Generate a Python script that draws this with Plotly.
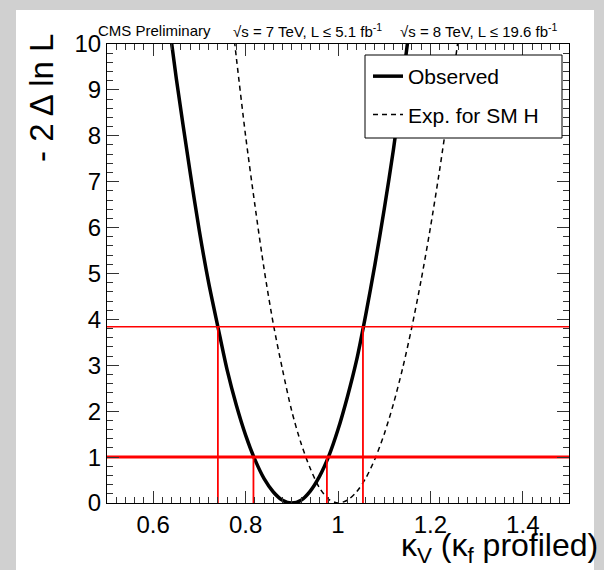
import plotly.graph_objects as go

# ---- data ----
obs_x = [0.62, 0.63, 0.65, 0.68, 0.70, 0.72, 0.74, 0.76, 0.78, 0.80, 0.82, 0.84, 0.86, 0.88, 0.90,
         0.92, 0.94, 0.96, 0.98, 1.00, 1.02, 1.04, 1.06, 1.08, 1.10, 1.12, 1.14, 1.16, 1.17]
obs_y = [11.6, 10.8, 9.25, 7.2, 5.92, 4.8, 3.84, 2.9, 2.13, 1.48, 0.95, 0.53, 0.24, 0.06, 0.0,
         0.06, 0.26, 0.58, 1.02, 1.6, 2.3, 3.1, 4.1, 5.2, 6.4, 7.7, 9.2, 10.8, 11.7]

exp_x = [0.75, 0.76, 0.78, 0.80, 0.82, 0.84, 0.86, 0.88, 0.90, 0.92, 0.94, 0.96, 0.98, 1.00,
         1.02, 1.04, 1.06, 1.08, 1.10, 1.12, 1.14, 1.16, 1.18, 1.20, 1.22, 1.24, 1.26, 1.28]
exp_y = [12.4, 11.5, 9.7, 8.0, 6.5, 5.1, 3.9, 2.9, 2.0, 1.3, 0.75, 0.33, 0.08, 0.0,
         0.06, 0.24, 0.54, 0.96, 1.5, 2.16, 2.94, 3.84, 4.86, 6.0, 7.26, 8.64, 10.1, 11.8]

cl_levels = [1.0, 3.84]
cl_widths = [3, 1.6]
obs_cross_68 = [0.817, 0.976]
obs_cross_95 = [0.74, 1.054]

x_range = [0.5, 1.5]
y_range = [0, 10]

FONT = "Liberation Sans, Arial, Helvetica, sans-serif"
RED = "#ff0000"

fig = go.Figure()

fig.add_trace(go.Scatter(x=obs_x, y=obs_y, mode="lines", name="Observed",
                         line=dict(color="black", width=3.5, shape="spline", smoothing=0.8),
                         legendgroup="obs"))
fig.add_trace(go.Scatter(x=exp_x, y=exp_y, mode="lines", name="Exp. for SM H",
                         line=dict(color="black", width=1.5, dash="5px,4px", shape="spline", smoothing=0.8),
                         legendgroup="exp"))

# horizontal CL lines
for lvl, w in zip(cl_levels, cl_widths):
    fig.add_trace(go.Scatter(x=x_range, y=[lvl, lvl], mode="lines", showlegend=False,
                             line=dict(color=RED, width=w), hoverinfo="skip"))
# vertical crossing lines
for xs, lvl in ((obs_cross_68, cl_levels[0]), (obs_cross_95, cl_levels[1])):
    for xc in xs:
        fig.add_trace(go.Scatter(x=[xc, xc], y=[0, lvl], mode="lines", showlegend=False,
                                 line=dict(color=RED, width=1.8), hoverinfo="skip"))

L, R, T, B = 107, 35, 44, 67
W, H = 604, 570
pw, ph = W - L - R, H - T - B

def px(xp):
    return (xp - L) / pw

def py(yp):
    return (H - B - yp) / ph

axis_common = dict(showline=True, linecolor="black", linewidth=1, mirror="ticks",
                   ticks="inside", tickcolor="#333", tickwidth=1, ticklen=12,
                   showgrid=False, zeroline=False,
                   tickfont=dict(family=FONT, size=24, color="black"))

fig.update_xaxes(range=x_range, tick0=0, dtick=0.2,
                 minor=dict(dtick=0.02, ticks="inside", ticklen=6, tickcolor="#333"),
                 **axis_common)
fig.update_yaxes(range=y_range, tick0=0, dtick=1,
                 minor=dict(dtick=0.2, ticks="inside", ticklen=6, tickcolor="#333"),
                 **axis_common)

shapes = [
    # white page panel on the gray background
    dict(type="rect", xref="paper", yref="paper", x0=px(16), x1=px(594), y0=py(570), y1=py(10),
         fillcolor="white", line=dict(width=0), layer="below"),
    # legend box
    dict(type="rect", xref="paper", yref="paper", x0=px(365), x1=px(562), y0=py(138), y1=py(55),
         fillcolor="white", line=dict(color="black", width=1), layer="above"),
]

annotations = [
    dict(text="CMS Preliminary", x=px(96), y=py(30), xref="paper", yref="paper",
         xanchor="left", yanchor="middle", showarrow=False,
         font=dict(family=FONT, size=15, color="black")),
    dict(text="√s = 7 TeV, L ≤ 5.1 fb<sup>-1</sup>", x=px(231), y=py(30), xref="paper", yref="paper",
         xanchor="left", yanchor="middle", showarrow=False,
         font=dict(family=FONT, size=15, color="black")),
    dict(text="√s = 8 TeV, L ≤ 19.6 fb<sup>-1</sup>", x=px(398), y=py(30), xref="paper", yref="paper",
         xanchor="left", yanchor="middle", showarrow=False,
         font=dict(family=FONT, size=15, color="black")),
    dict(text="κ<sub>V</sub> (κ<sub>f</sub> profiled)", x=px(600), y=py(570), xref="paper", yref="paper",
         xanchor="right", yanchor="bottom", showarrow=False,
         font=dict(family=FONT, size=32, color="black")),
    dict(text="- 2 Δ ln L", textangle=-90, x=px(41), y=py(32), xref="paper", yref="paper",
         xanchor="center", yanchor="top", showarrow=False,
         font=dict(family=FONT, size=33, color="black")),
]

fig.update_layout(
    width=W, height=H, autosize=False,
    margin=dict(l=L, r=R, t=T, b=B, pad=0),
    paper_bgcolor="#d0d0d0", plot_bgcolor="white",
    shapes=shapes, annotations=annotations,
    showlegend=True,
    legend=dict(x=px(368), y=py(56), xanchor="left", yanchor="top",
                bgcolor="rgba(0,0,0,0)", borderwidth=0, tracegroupgap=8,
                font=dict(family=FONT, size=21, color="black")),
)

fig.write_html("out.html")
